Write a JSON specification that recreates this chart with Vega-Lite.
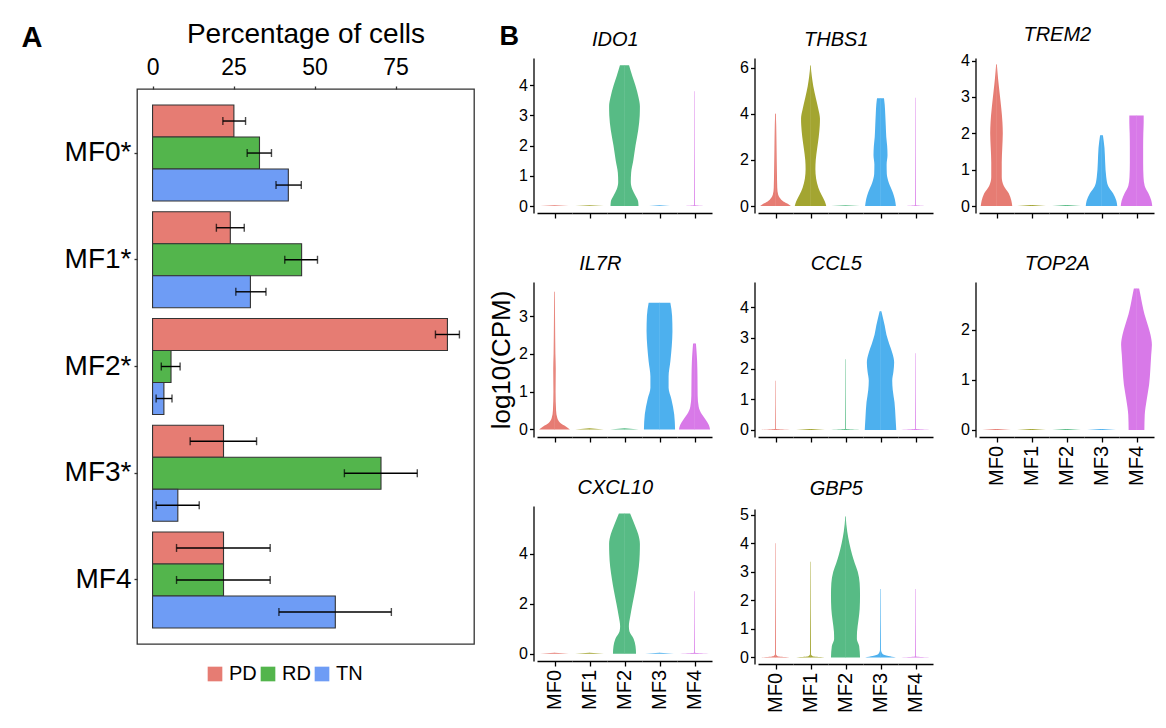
{
  "$schema": "https://vega.github.io/schema/vega-lite/v6.json",
  "padding": {"left": 20, "top": 19, "right": 5, "bottom": 5},
  "datasets": {
    "bars": [
      {"cl": "MF0*", "grp": "PD", "pct": 25.1, "lo": 21.7, "hi": 28.7},
      {"cl": "MF0*", "grp": "RD", "pct": 33.0, "lo": 29.2, "hi": 36.7},
      {"cl": "MF0*", "grp": "TN", "pct": 41.9, "lo": 38.1, "hi": 45.9},
      {"cl": "MF1*", "grp": "PD", "pct": 24.0, "lo": 19.7, "hi": 28.3},
      {"cl": "MF1*", "grp": "RD", "pct": 46.0, "lo": 40.8, "hi": 50.9},
      {"cl": "MF1*", "grp": "TN", "pct": 30.2, "lo": 25.7, "hi": 35.0},
      {"cl": "MF2*", "grp": "PD", "pct": 91.0, "lo": 87.3, "hi": 94.7},
      {"cl": "MF2*", "grp": "RD", "pct": 5.7, "lo": 2.7, "hi": 8.5},
      {"cl": "MF2*", "grp": "TN", "pct": 3.5, "lo": 1.1, "hi": 6.0},
      {"cl": "MF3*", "grp": "PD", "pct": 21.9, "lo": 11.6, "hi": 32.1},
      {"cl": "MF3*", "grp": "RD", "pct": 70.5, "lo": 59.2, "hi": 81.7},
      {"cl": "MF3*", "grp": "TN", "pct": 7.8, "lo": 1.1, "hi": 14.4},
      {"cl": "MF4", "grp": "PD", "pct": 21.9, "lo": 7.4, "hi": 36.3},
      {"cl": "MF4", "grp": "RD", "pct": 21.9, "lo": 7.4, "hi": 36.3},
      {"cl": "MF4", "grp": "TN", "pct": 56.4, "lo": 39.0, "hi": 73.7}
    ],
    "vio": [
      {"g": "IDO1", "c": "MF0", "v": 0, "d": 0.82}, {"g": "IDO1", "c": "MF0", "v": 0.03, "d": 0.02},
      {"g": "IDO1", "c": "MF1", "v": 0, "d": 0.82}, {"g": "IDO1", "c": "MF1", "v": 0.03, "d": 0.02},
      {"g": "IDO1", "c": "MF2", "v": 0, "d": 0.8}, {"g": "IDO1", "c": "MF2", "v": 0.15, "d": 0.78}, {"g": "IDO1", "c": "MF2", "v": 0.35, "d": 0.62}, {"g": "IDO1", "c": "MF2", "v": 0.55, "d": 0.45}, {"g": "IDO1", "c": "MF2", "v": 0.8, "d": 0.36}, {"g": "IDO1", "c": "MF2", "v": 1.1, "d": 0.38}, {"g": "IDO1", "c": "MF2", "v": 1.5, "d": 0.5}, {"g": "IDO1", "c": "MF2", "v": 2.0, "d": 0.63}, {"g": "IDO1", "c": "MF2", "v": 2.5, "d": 0.78}, {"g": "IDO1", "c": "MF2", "v": 3.0, "d": 0.87}, {"g": "IDO1", "c": "MF2", "v": 3.3, "d": 0.88}, {"g": "IDO1", "c": "MF2", "v": 3.6, "d": 0.8}, {"g": "IDO1", "c": "MF2", "v": 4.0, "d": 0.62}, {"g": "IDO1", "c": "MF2", "v": 4.3, "d": 0.45}, {"g": "IDO1", "c": "MF2", "v": 4.66, "d": 0.26},
      {"g": "IDO1", "c": "MF3", "v": 0, "d": 0.6}, {"g": "IDO1", "c": "MF3", "v": 0.03, "d": 0.02},
      {"g": "IDO1", "c": "MF4", "v": 0, "d": 0.82}, {"g": "IDO1", "c": "MF4", "v": 0.03, "d": 0.02}, {"g": "IDO1", "c": "MF4", "v": 3.8, "d": 0.002},

      {"g": "THBS1", "c": "MF0", "v": 0, "d": 0.88}, {"g": "THBS1", "c": "MF0", "v": 0.1, "d": 0.7}, {"g": "THBS1", "c": "MF0", "v": 0.2, "d": 0.45}, {"g": "THBS1", "c": "MF0", "v": 0.35, "d": 0.25}, {"g": "THBS1", "c": "MF0", "v": 0.5, "d": 0.15}, {"g": "THBS1", "c": "MF0", "v": 0.8, "d": 0.1}, {"g": "THBS1", "c": "MF0", "v": 1.5, "d": 0.08}, {"g": "THBS1", "c": "MF0", "v": 2.5, "d": 0.06}, {"g": "THBS1", "c": "MF0", "v": 3.5, "d": 0.04}, {"g": "THBS1", "c": "MF0", "v": 4.0, "d": 0.02},
      {"g": "THBS1", "c": "MF1", "v": 0, "d": 0.9}, {"g": "THBS1", "c": "MF1", "v": 0.2, "d": 0.82}, {"g": "THBS1", "c": "MF1", "v": 0.5, "d": 0.62}, {"g": "THBS1", "c": "MF1", "v": 0.8, "d": 0.45}, {"g": "THBS1", "c": "MF1", "v": 1.2, "d": 0.32}, {"g": "THBS1", "c": "MF1", "v": 1.6, "d": 0.28}, {"g": "THBS1", "c": "MF1", "v": 2.0, "d": 0.3}, {"g": "THBS1", "c": "MF1", "v": 2.5, "d": 0.38}, {"g": "THBS1", "c": "MF1", "v": 3.0, "d": 0.47}, {"g": "THBS1", "c": "MF1", "v": 3.5, "d": 0.53}, {"g": "THBS1", "c": "MF1", "v": 3.8, "d": 0.54}, {"g": "THBS1", "c": "MF1", "v": 4.2, "d": 0.45}, {"g": "THBS1", "c": "MF1", "v": 4.7, "d": 0.3}, {"g": "THBS1", "c": "MF1", "v": 5.2, "d": 0.16}, {"g": "THBS1", "c": "MF1", "v": 5.6, "d": 0.08}, {"g": "THBS1", "c": "MF1", "v": 6.1, "d": 0.01},
      {"g": "THBS1", "c": "MF2", "v": 0, "d": 0.82}, {"g": "THBS1", "c": "MF2", "v": 0.04, "d": 0.02},
      {"g": "THBS1", "c": "MF3", "v": 0, "d": 0.88}, {"g": "THBS1", "c": "MF3", "v": 0.3, "d": 0.82}, {"g": "THBS1", "c": "MF3", "v": 0.6, "d": 0.7}, {"g": "THBS1", "c": "MF3", "v": 1.0, "d": 0.48}, {"g": "THBS1", "c": "MF3", "v": 1.4, "d": 0.36}, {"g": "THBS1", "c": "MF3", "v": 1.8, "d": 0.35}, {"g": "THBS1", "c": "MF3", "v": 2.2, "d": 0.4}, {"g": "THBS1", "c": "MF3", "v": 2.6, "d": 0.38}, {"g": "THBS1", "c": "MF3", "v": 3.0, "d": 0.33}, {"g": "THBS1", "c": "MF3", "v": 3.5, "d": 0.3}, {"g": "THBS1", "c": "MF3", "v": 4.0, "d": 0.27}, {"g": "THBS1", "c": "MF3", "v": 4.4, "d": 0.24}, {"g": "THBS1", "c": "MF3", "v": 4.68, "d": 0.2},
      {"g": "THBS1", "c": "MF4", "v": 0, "d": 0.82}, {"g": "THBS1", "c": "MF4", "v": 0.04, "d": 0.02}, {"g": "THBS1", "c": "MF4", "v": 4.7, "d": 0.002},

      {"g": "TREM2", "c": "MF0", "v": 0, "d": 0.9}, {"g": "TREM2", "c": "MF0", "v": 0.15, "d": 0.85}, {"g": "TREM2", "c": "MF0", "v": 0.35, "d": 0.7}, {"g": "TREM2", "c": "MF0", "v": 0.55, "d": 0.42}, {"g": "TREM2", "c": "MF0", "v": 0.8, "d": 0.3}, {"g": "TREM2", "c": "MF0", "v": 1.2, "d": 0.3}, {"g": "TREM2", "c": "MF0", "v": 1.6, "d": 0.33}, {"g": "TREM2", "c": "MF0", "v": 2.0, "d": 0.36}, {"g": "TREM2", "c": "MF0", "v": 2.3, "d": 0.34}, {"g": "TREM2", "c": "MF0", "v": 2.7, "d": 0.27}, {"g": "TREM2", "c": "MF0", "v": 3.1, "d": 0.18}, {"g": "TREM2", "c": "MF0", "v": 3.5, "d": 0.09}, {"g": "TREM2", "c": "MF0", "v": 3.89, "d": 0.02},
      {"g": "TREM2", "c": "MF1", "v": 0, "d": 0.82}, {"g": "TREM2", "c": "MF1", "v": 0.03, "d": 0.02},
      {"g": "TREM2", "c": "MF2", "v": 0, "d": 0.82}, {"g": "TREM2", "c": "MF2", "v": 0.03, "d": 0.02},
      {"g": "TREM2", "c": "MF3", "v": 0, "d": 0.9}, {"g": "TREM2", "c": "MF3", "v": 0.15, "d": 0.85}, {"g": "TREM2", "c": "MF3", "v": 0.35, "d": 0.66}, {"g": "TREM2", "c": "MF3", "v": 0.55, "d": 0.38}, {"g": "TREM2", "c": "MF3", "v": 0.8, "d": 0.27}, {"g": "TREM2", "c": "MF3", "v": 1.2, "d": 0.21}, {"g": "TREM2", "c": "MF3", "v": 1.6, "d": 0.17}, {"g": "TREM2", "c": "MF3", "v": 1.95, "d": 0.08},
      {"g": "TREM2", "c": "MF4", "v": 0, "d": 0.9}, {"g": "TREM2", "c": "MF4", "v": 0.15, "d": 0.85}, {"g": "TREM2", "c": "MF4", "v": 0.35, "d": 0.68}, {"g": "TREM2", "c": "MF4", "v": 0.55, "d": 0.47}, {"g": "TREM2", "c": "MF4", "v": 0.8, "d": 0.4}, {"g": "TREM2", "c": "MF4", "v": 1.2, "d": 0.38}, {"g": "TREM2", "c": "MF4", "v": 1.6, "d": 0.38}, {"g": "TREM2", "c": "MF4", "v": 2.0, "d": 0.39}, {"g": "TREM2", "c": "MF4", "v": 2.3, "d": 0.41}, {"g": "TREM2", "c": "MF4", "v": 2.49, "d": 0.41},

      {"g": "IL7R", "c": "MF0", "v": 0, "d": 0.88}, {"g": "IL7R", "c": "MF0", "v": 0.08, "d": 0.65}, {"g": "IL7R", "c": "MF0", "v": 0.18, "d": 0.32}, {"g": "IL7R", "c": "MF0", "v": 0.3, "d": 0.16}, {"g": "IL7R", "c": "MF0", "v": 0.5, "d": 0.09}, {"g": "IL7R", "c": "MF0", "v": 1.0, "d": 0.06}, {"g": "IL7R", "c": "MF0", "v": 1.6, "d": 0.07}, {"g": "IL7R", "c": "MF0", "v": 2.0, "d": 0.05}, {"g": "IL7R", "c": "MF0", "v": 3.0, "d": 0.03}, {"g": "IL7R", "c": "MF0", "v": 3.64, "d": 0.01},
      {"g": "IL7R", "c": "MF1", "v": 0, "d": 0.82}, {"g": "IL7R", "c": "MF1", "v": 0.03, "d": 0.02},
      {"g": "IL7R", "c": "MF2", "v": 0, "d": 0.82}, {"g": "IL7R", "c": "MF2", "v": 0.03, "d": 0.02},
      {"g": "IL7R", "c": "MF3", "v": 0, "d": 0.89}, {"g": "IL7R", "c": "MF3", "v": 0.4, "d": 0.84}, {"g": "IL7R", "c": "MF3", "v": 0.8, "d": 0.68}, {"g": "IL7R", "c": "MF3", "v": 1.1, "d": 0.52}, {"g": "IL7R", "c": "MF3", "v": 1.4, "d": 0.52}, {"g": "IL7R", "c": "MF3", "v": 1.8, "d": 0.62}, {"g": "IL7R", "c": "MF3", "v": 2.2, "d": 0.7}, {"g": "IL7R", "c": "MF3", "v": 2.6, "d": 0.74}, {"g": "IL7R", "c": "MF3", "v": 3.0, "d": 0.72}, {"g": "IL7R", "c": "MF3", "v": 3.35, "d": 0.62},
      {"g": "IL7R", "c": "MF4", "v": 0, "d": 0.89}, {"g": "IL7R", "c": "MF4", "v": 0.12, "d": 0.82}, {"g": "IL7R", "c": "MF4", "v": 0.25, "d": 0.65}, {"g": "IL7R", "c": "MF4", "v": 0.4, "d": 0.42}, {"g": "IL7R", "c": "MF4", "v": 0.6, "d": 0.24}, {"g": "IL7R", "c": "MF4", "v": 0.9, "d": 0.18}, {"g": "IL7R", "c": "MF4", "v": 1.4, "d": 0.17}, {"g": "IL7R", "c": "MF4", "v": 1.8, "d": 0.15}, {"g": "IL7R", "c": "MF4", "v": 2.1, "d": 0.11}, {"g": "IL7R", "c": "MF4", "v": 2.27, "d": 0.08},

      {"g": "CCL5", "c": "MF0", "v": 0, "d": 0.82}, {"g": "CCL5", "c": "MF0", "v": 0.03, "d": 0.02}, {"g": "CCL5", "c": "MF0", "v": 1.6, "d": 0.002},
      {"g": "CCL5", "c": "MF1", "v": 0, "d": 0.82}, {"g": "CCL5", "c": "MF1", "v": 0.03, "d": 0.02},
      {"g": "CCL5", "c": "MF2", "v": 0, "d": 0.82}, {"g": "CCL5", "c": "MF2", "v": 0.03, "d": 0.02}, {"g": "CCL5", "c": "MF2", "v": 2.3, "d": 0.002},
      {"g": "CCL5", "c": "MF3", "v": 0, "d": 0.9}, {"g": "CCL5", "c": "MF3", "v": 0.4, "d": 0.86}, {"g": "CCL5", "c": "MF3", "v": 0.9, "d": 0.8}, {"g": "CCL5", "c": "MF3", "v": 1.3, "d": 0.7}, {"g": "CCL5", "c": "MF3", "v": 1.6, "d": 0.67}, {"g": "CCL5", "c": "MF3", "v": 1.9, "d": 0.74}, {"g": "CCL5", "c": "MF3", "v": 2.2, "d": 0.78}, {"g": "CCL5", "c": "MF3", "v": 2.5, "d": 0.68}, {"g": "CCL5", "c": "MF3", "v": 2.8, "d": 0.5}, {"g": "CCL5", "c": "MF3", "v": 3.1, "d": 0.34}, {"g": "CCL5", "c": "MF3", "v": 3.4, "d": 0.24}, {"g": "CCL5", "c": "MF3", "v": 3.87, "d": 0.05},
      {"g": "CCL5", "c": "MF4", "v": 0, "d": 0.82}, {"g": "CCL5", "c": "MF4", "v": 0.03, "d": 0.02}, {"g": "CCL5", "c": "MF4", "v": 2.5, "d": 0.002},

      {"g": "TOP2A", "c": "MF0", "v": 0, "d": 0.82}, {"g": "TOP2A", "c": "MF0", "v": 0.02, "d": 0.02},
      {"g": "TOP2A", "c": "MF1", "v": 0, "d": 0.82}, {"g": "TOP2A", "c": "MF1", "v": 0.02, "d": 0.02},
      {"g": "TOP2A", "c": "MF2", "v": 0, "d": 0.82}, {"g": "TOP2A", "c": "MF2", "v": 0.02, "d": 0.02},
      {"g": "TOP2A", "c": "MF3", "v": 0, "d": 0.82}, {"g": "TOP2A", "c": "MF3", "v": 0.02, "d": 0.02},
      {"g": "TOP2A", "c": "MF4", "v": 0, "d": 0.45}, {"g": "TOP2A", "c": "MF4", "v": 0.3, "d": 0.47}, {"g": "TOP2A", "c": "MF4", "v": 0.6, "d": 0.58}, {"g": "TOP2A", "c": "MF4", "v": 0.9, "d": 0.72}, {"g": "TOP2A", "c": "MF4", "v": 1.2, "d": 0.79}, {"g": "TOP2A", "c": "MF4", "v": 1.5, "d": 0.84}, {"g": "TOP2A", "c": "MF4", "v": 1.7, "d": 0.88}, {"g": "TOP2A", "c": "MF4", "v": 1.9, "d": 0.8}, {"g": "TOP2A", "c": "MF4", "v": 2.1, "d": 0.64}, {"g": "TOP2A", "c": "MF4", "v": 2.3, "d": 0.46}, {"g": "TOP2A", "c": "MF4", "v": 2.5, "d": 0.33}, {"g": "TOP2A", "c": "MF4", "v": 2.7, "d": 0.22}, {"g": "TOP2A", "c": "MF4", "v": 2.82, "d": 0.15},

      {"g": "CXCL10", "c": "MF0", "v": 0, "d": 0.82}, {"g": "CXCL10", "c": "MF0", "v": 0.04, "d": 0.02},
      {"g": "CXCL10", "c": "MF1", "v": 0, "d": 0.82}, {"g": "CXCL10", "c": "MF1", "v": 0.04, "d": 0.02},
      {"g": "CXCL10", "c": "MF2", "v": 0, "d": 0.66}, {"g": "CXCL10", "c": "MF2", "v": 0.3, "d": 0.63}, {"g": "CXCL10", "c": "MF2", "v": 0.6, "d": 0.52}, {"g": "CXCL10", "c": "MF2", "v": 0.9, "d": 0.28}, {"g": "CXCL10", "c": "MF2", "v": 1.1, "d": 0.25}, {"g": "CXCL10", "c": "MF2", "v": 1.5, "d": 0.33}, {"g": "CXCL10", "c": "MF2", "v": 2.0, "d": 0.46}, {"g": "CXCL10", "c": "MF2", "v": 2.5, "d": 0.6}, {"g": "CXCL10", "c": "MF2", "v": 3.0, "d": 0.72}, {"g": "CXCL10", "c": "MF2", "v": 3.5, "d": 0.82}, {"g": "CXCL10", "c": "MF2", "v": 4.0, "d": 0.87}, {"g": "CXCL10", "c": "MF2", "v": 4.4, "d": 0.88}, {"g": "CXCL10", "c": "MF2", "v": 4.8, "d": 0.78}, {"g": "CXCL10", "c": "MF2", "v": 5.1, "d": 0.62}, {"g": "CXCL10", "c": "MF2", "v": 5.4, "d": 0.45}, {"g": "CXCL10", "c": "MF2", "v": 5.62, "d": 0.32},
      {"g": "CXCL10", "c": "MF3", "v": 0, "d": 0.82}, {"g": "CXCL10", "c": "MF3", "v": 0.04, "d": 0.02},
      {"g": "CXCL10", "c": "MF4", "v": 0, "d": 0.82}, {"g": "CXCL10", "c": "MF4", "v": 0.04, "d": 0.02}, {"g": "CXCL10", "c": "MF4", "v": 2.5, "d": 0.002},

      {"g": "GBP5", "c": "MF0", "v": 0, "d": 0.82}, {"g": "GBP5", "c": "MF0", "v": 0.04, "d": 0.12}, {"g": "GBP5", "c": "MF0", "v": 0.1, "d": 0.03}, {"g": "GBP5", "c": "MF0", "v": 4.0, "d": 0.002},
      {"g": "GBP5", "c": "MF1", "v": 0, "d": 0.82}, {"g": "GBP5", "c": "MF1", "v": 0.04, "d": 0.12}, {"g": "GBP5", "c": "MF1", "v": 0.1, "d": 0.03}, {"g": "GBP5", "c": "MF1", "v": 3.35, "d": 0.002},
      {"g": "GBP5", "c": "MF2", "v": 0, "d": 0.83}, {"g": "GBP5", "c": "MF2", "v": 0.4, "d": 0.78}, {"g": "GBP5", "c": "MF2", "v": 0.65, "d": 0.65}, {"g": "GBP5", "c": "MF2", "v": 0.9, "d": 0.66}, {"g": "GBP5", "c": "MF2", "v": 1.3, "d": 0.74}, {"g": "GBP5", "c": "MF2", "v": 1.7, "d": 0.81}, {"g": "GBP5", "c": "MF2", "v": 2.2, "d": 0.83}, {"g": "GBP5", "c": "MF2", "v": 2.6, "d": 0.81}, {"g": "GBP5", "c": "MF2", "v": 3.0, "d": 0.7}, {"g": "GBP5", "c": "MF2", "v": 3.3, "d": 0.53}, {"g": "GBP5", "c": "MF2", "v": 3.6, "d": 0.38}, {"g": "GBP5", "c": "MF2", "v": 4.0, "d": 0.22}, {"g": "GBP5", "c": "MF2", "v": 4.4, "d": 0.1}, {"g": "GBP5", "c": "MF2", "v": 4.94, "d": 0.01},
      {"g": "GBP5", "c": "MF3", "v": 0, "d": 0.88}, {"g": "GBP5", "c": "MF3", "v": 0.05, "d": 0.45}, {"g": "GBP5", "c": "MF3", "v": 0.12, "d": 0.12}, {"g": "GBP5", "c": "MF3", "v": 0.25, "d": 0.03}, {"g": "GBP5", "c": "MF3", "v": 2.4, "d": 0.003},
      {"g": "GBP5", "c": "MF4", "v": 0, "d": 0.82}, {"g": "GBP5", "c": "MF4", "v": 0.03, "d": 0.02}, {"g": "GBP5", "c": "MF4", "v": 2.4, "d": 0.002}
    ]
  },
  "resolve": {"scale": {"color": "independent"}},
  "spacing": 13,
  "hconcat": [
    {
      "bounds": "flush",
      "spacing": 30,
      "vconcat": [
        {"width": 1, "height": 1, "data": {"values": []}, "mark": "point"},
        {
          "width": 337, "height": 555,
          "data": {"name": "bars"},
          "view": {"stroke": "#333333", "strokeWidth": 1.3},
          "encoding": {
            "y": {"field": "cl", "type": "nominal", "sort": null, "scale": {"paddingInner": 0.1, "paddingOuter": 0.15},
              "axis": {"title": "A", "titleAngle": 0, "titleFontSize": 29, "titleFontWeight": "bold", "titleAlign": "left", "titleBaseline": "alphabetic", "titleX": -116, "titleY": -43, "labelFontSize": 28, "labelPadding": 3, "tickSize": 3, "tickColor": "#333333", "domain": false}},
            "yOffset": {"field": "grp", "type": "nominal", "sort": ["PD", "RD", "TN"], "scale": {"paddingInner": 0, "paddingOuter": 0}}
          },
          "layer": [
            {"mark": {"type": "bar", "stroke": "#333333", "strokeWidth": 1.1},
             "encoding": {
               "x": {"field": "pct", "type": "quantitative", "scale": {"domain": [-4.8, 99.2], "nice": false, "zero": false},
                 "axis": {"orient": "top", "values": [0, 25, 50, 75], "title": "Percentage of cells", "titleFontSize": 28, "titlePadding": 8, "labelFontSize": 23, "labelPadding": 7, "tickSize": 3, "tickColor": "#333333", "domain": false}},
               "x2": {"datum": 0},
               "color": {"field": "grp", "type": "nominal", "scale": {"domain": ["PD", "RD", "TN"], "range": ["#E67C73", "#53B54C", "#6E9CF5"]},
                 "legend": {"title": null, "orient": "none", "legendX": 68, "legendY": 606, "direction": "horizontal", "symbolType": "square", "symbolSize": 215, "symbolStrokeWidth": 0, "symbolOpacity": 1, "labelFontSize": 20, "columnPadding": 1, "labelOffset": 4}}
             }},
            {"mark": {"type": "rule", "color": "black", "strokeWidth": 1.4},
             "encoding": {"x": {"field": "lo", "type": "quantitative"}, "x2": {"field": "hi"}}},
            {"mark": {"type": "tick", "color": "black", "thickness": 1.4, "size": 8, "orient": "vertical"},
             "encoding": {"x": {"field": "lo", "type": "quantitative"}}},
            {"mark": {"type": "tick", "color": "black", "thickness": 1.4, "size": 8, "orient": "vertical"},
             "encoding": {"x": {"field": "hi", "type": "quantitative"}}}
          ]
        }
      ]
    },
    {
      "title": {"text": "B", "anchor": "start", "frame": "bounds", "fontSize": 27, "fontWeight": "bold", "fontStyle": "normal", "offset": -26, "dx": 11},
      "spacing": 27,
      "hconcat": [
        {
          "spacing": 35,
          "vconcat": [
            {
              "title": {"text": "IDO1", "anchor": "middle"},
              "data": {"name": "vio"},
              "transform": [{"filter": "datum.g === 'IDO1'"}],
              "facet": {"column": {"field": "c", "type": "nominal", "title": null, "header": {"labels": false}}},
              "spacing": 0,
              "resolve": {"scale": {"x": "independent"}},
              "spec": {
                "width": 35, "height": 155,
                "layer": [
                  {"mark": {"type": "area", "orient": "horizontal", "interpolate": "monotone"},
                   "encoding": {
                     "y": {"field": "v", "type": "quantitative", "scale": {"domain": [-0.23, 4.9], "nice": false, "zero": false}, "axis": {"values": [0, 1, 2, 3, 4], "offset": 3.5, "labelFontSize": 16, "tickSize": 4, "labelPadding": 2, "title": null}},
                     "x": {"field": "d", "type": "quantitative", "stack": null, "scale": {"domain": [-1, 1]}, "axis": {"values": [0], "labels": false, "title": null, "tickSize": 5}},
                     "x2": {"datum": -0.012},
                     "color": {"field": "c", "type": "nominal", "scale": {"domain": ["MF0", "MF1", "MF2", "MF3", "MF4"], "range": ["#E67C73", "#A3A531", "#57BB85", "#4DB0EE", "#D879E8"]}, "legend": null}
                   }},
                  {"mark": {"type": "area", "orient": "horizontal", "interpolate": "monotone"},
                   "encoding": {
                     "y": {"field": "v", "type": "quantitative", "scale": {"domain": [-0.23, 4.9], "nice": false, "zero": false}, "axis": {"values": [0, 1, 2, 3, 4], "offset": 3.5, "labelFontSize": 16, "tickSize": 4, "labelPadding": 2, "title": null}},
                     "x": {"field": "d", "type": "quantitative", "stack": null, "scale": {"domain": [-1, 1], "reverse": true}, "axis": null},
                     "x2": {"datum": -0.012},
                     "color": {"field": "c", "type": "nominal", "legend": null}
                   }}
                ],
                "resolve": {"scale": {"x": "independent"}}
              }
            },
            {
              "title": {"text": "IL7R", "anchor": "middle"},
              "data": {"name": "vio"},
              "transform": [{"filter": "datum.g === 'IL7R'"}],
              "facet": {"column": {"field": "c", "type": "nominal", "title": null, "header": {"labels": false}}},
              "spacing": 0,
              "resolve": {"scale": {"x": "independent"}},
              "spec": {
                "width": 35, "height": 155,
                "layer": [
                  {"mark": {"type": "area", "orient": "horizontal", "interpolate": "monotone"},
                   "encoding": {
                     "y": {"field": "v", "type": "quantitative", "scale": {"domain": [-0.2, 3.9], "nice": false, "zero": false}, "axis": {"values": [0, 1, 2, 3], "offset": 3.5, "labelFontSize": 16, "tickSize": 4, "labelPadding": 2, "title": "log10(CPM)", "titleFontSize": 26, "titlePadding": 4}},
                     "x": {"field": "d", "type": "quantitative", "stack": null, "scale": {"domain": [-1, 1]}, "axis": {"values": [0], "labels": false, "title": null, "tickSize": 5}},
                     "x2": {"datum": -0.012},
                     "color": {"field": "c", "type": "nominal", "legend": null}
                   }},
                  {"mark": {"type": "area", "orient": "horizontal", "interpolate": "monotone"},
                   "encoding": {
                     "y": {"field": "v", "type": "quantitative", "scale": {"domain": [-0.2, 3.9], "nice": false, "zero": false}, "axis": {"values": [0, 1, 2, 3], "offset": 3.5, "labelFontSize": 16, "tickSize": 4, "labelPadding": 2, "title": "log10(CPM)", "titleFontSize": 26, "titlePadding": 4}},
                     "x": {"field": "d", "type": "quantitative", "stack": null, "scale": {"domain": [-1, 1], "reverse": true}, "axis": null},
                     "x2": {"datum": -0.012},
                     "color": {"field": "c", "type": "nominal", "legend": null}
                   }}
                ],
                "resolve": {"scale": {"x": "independent"}}
              }
            },
            {
              "title": {"text": "CXCL10", "anchor": "middle"},
              "data": {"name": "vio"},
              "transform": [{"filter": "datum.g === 'CXCL10'"}],
              "facet": {"column": {"field": "c", "type": "nominal", "title": null, "header": {"labelOrient": "bottom", "labelAngle": -90, "labelAlign": "right", "labelBaseline": "middle", "labelFontSize": 20, "labelPadding": 3}}},
              "spacing": 0,
              "resolve": {"scale": {"x": "independent"}},
              "spec": {
                "width": 35, "height": 155,
                "layer": [
                  {"mark": {"type": "area", "orient": "horizontal", "interpolate": "monotone"},
                   "encoding": {
                     "y": {"field": "v", "type": "quantitative", "scale": {"domain": [-0.29, 5.92], "nice": false, "zero": false}, "axis": {"values": [0, 2, 4], "offset": 3.5, "labelFontSize": 16, "tickSize": 4, "labelPadding": 2, "title": null}},
                     "x": {"field": "d", "type": "quantitative", "stack": null, "scale": {"domain": [-1, 1]}, "axis": {"values": [0], "labels": false, "title": null, "tickSize": 5}},
                     "x2": {"datum": -0.012},
                     "color": {"field": "c", "type": "nominal", "legend": null}
                   }},
                  {"mark": {"type": "area", "orient": "horizontal", "interpolate": "monotone"},
                   "encoding": {
                     "y": {"field": "v", "type": "quantitative", "scale": {"domain": [-0.29, 5.92], "nice": false, "zero": false}, "axis": {"values": [0, 2, 4], "offset": 3.5, "labelFontSize": 16, "tickSize": 4, "labelPadding": 2, "title": null}},
                     "x": {"field": "d", "type": "quantitative", "stack": null, "scale": {"domain": [-1, 1], "reverse": true}, "axis": null},
                     "x2": {"datum": -0.012},
                     "color": {"field": "c", "type": "nominal", "legend": null}
                   }}
                ],
                "resolve": {"scale": {"x": "independent"}}
              }
            }
          ]
        },
        {
          "spacing": 35,
          "vconcat": [
            {
              "title": {"text": "THBS1", "anchor": "middle"},
              "data": {"name": "vio"},
              "transform": [{"filter": "datum.g === 'THBS1'"}],
              "facet": {"column": {"field": "c", "type": "nominal", "title": null, "header": {"labels": false}}},
              "spacing": 0,
              "resolve": {"scale": {"x": "independent"}},
              "spec": {
                "width": 35, "height": 155,
                "layer": [
                  {"mark": {"type": "area", "orient": "horizontal", "interpolate": "monotone"},
                   "encoding": {
                     "y": {"field": "v", "type": "quantitative", "scale": {"domain": [-0.3, 6.42], "nice": false, "zero": false}, "axis": {"values": [0, 2, 4, 6], "offset": 3.5, "labelFontSize": 16, "tickSize": 4, "labelPadding": 2, "title": null}},
                     "x": {"field": "d", "type": "quantitative", "stack": null, "scale": {"domain": [-1, 1]}, "axis": {"values": [0], "labels": false, "title": null, "tickSize": 5}},
                     "x2": {"datum": -0.012},
                     "color": {"field": "c", "type": "nominal", "legend": null}
                   }},
                  {"mark": {"type": "area", "orient": "horizontal", "interpolate": "monotone"},
                   "encoding": {
                     "y": {"field": "v", "type": "quantitative", "scale": {"domain": [-0.3, 6.42], "nice": false, "zero": false}, "axis": {"values": [0, 2, 4, 6], "offset": 3.5, "labelFontSize": 16, "tickSize": 4, "labelPadding": 2, "title": null}},
                     "x": {"field": "d", "type": "quantitative", "stack": null, "scale": {"domain": [-1, 1], "reverse": true}, "axis": null},
                     "x2": {"datum": -0.012},
                     "color": {"field": "c", "type": "nominal", "legend": null}
                   }}
                ],
                "resolve": {"scale": {"x": "independent"}}
              }
            },
            {
              "title": {"text": "CCL5", "anchor": "middle"},
              "data": {"name": "vio"},
              "transform": [{"filter": "datum.g === 'CCL5'"}],
              "facet": {"column": {"field": "c", "type": "nominal", "title": null, "header": {"labels": false}}},
              "spacing": 0,
              "resolve": {"scale": {"x": "independent"}},
              "spec": {
                "width": 35, "height": 155,
                "layer": [
                  {"mark": {"type": "area", "orient": "horizontal", "interpolate": "monotone"},
                   "encoding": {
                     "y": {"field": "v", "type": "quantitative", "scale": {"domain": [-0.23, 4.82], "nice": false, "zero": false}, "axis": {"values": [0, 1, 2, 3, 4], "offset": 3.5, "labelFontSize": 16, "tickSize": 4, "labelPadding": 2, "title": null}},
                     "x": {"field": "d", "type": "quantitative", "stack": null, "scale": {"domain": [-1, 1]}, "axis": {"values": [0], "labels": false, "title": null, "tickSize": 5}},
                     "x2": {"datum": -0.012},
                     "color": {"field": "c", "type": "nominal", "legend": null}
                   }},
                  {"mark": {"type": "area", "orient": "horizontal", "interpolate": "monotone"},
                   "encoding": {
                     "y": {"field": "v", "type": "quantitative", "scale": {"domain": [-0.23, 4.82], "nice": false, "zero": false}, "axis": {"values": [0, 1, 2, 3, 4], "offset": 3.5, "labelFontSize": 16, "tickSize": 4, "labelPadding": 2, "title": null}},
                     "x": {"field": "d", "type": "quantitative", "stack": null, "scale": {"domain": [-1, 1], "reverse": true}, "axis": null},
                     "x2": {"datum": -0.012},
                     "color": {"field": "c", "type": "nominal", "legend": null}
                   }}
                ],
                "resolve": {"scale": {"x": "independent"}}
              }
            },
            {
              "title": {"text": "GBP5", "anchor": "middle"},
              "data": {"name": "vio"},
              "transform": [{"filter": "datum.g === 'GBP5'"}],
              "facet": {"column": {"field": "c", "type": "nominal", "title": null, "header": {"labelOrient": "bottom", "labelAngle": -90, "labelAlign": "right", "labelBaseline": "middle", "labelFontSize": 20, "labelPadding": 3}}},
              "spacing": 0,
              "resolve": {"scale": {"x": "independent"}},
              "spec": {
                "width": 35, "height": 155,
                "layer": [
                  {"mark": {"type": "area", "orient": "horizontal", "interpolate": "monotone"},
                   "encoding": {
                     "y": {"field": "v", "type": "quantitative", "scale": {"domain": [-0.23, 5.2], "nice": false, "zero": false}, "axis": {"values": [0, 1, 2, 3, 4, 5], "offset": 3.5, "labelFontSize": 16, "tickSize": 4, "labelPadding": 2, "title": null}},
                     "x": {"field": "d", "type": "quantitative", "stack": null, "scale": {"domain": [-1, 1]}, "axis": {"values": [0], "labels": false, "title": null, "tickSize": 5}},
                     "x2": {"datum": -0.012},
                     "color": {"field": "c", "type": "nominal", "legend": null}
                   }},
                  {"mark": {"type": "area", "orient": "horizontal", "interpolate": "monotone"},
                   "encoding": {
                     "y": {"field": "v", "type": "quantitative", "scale": {"domain": [-0.23, 5.2], "nice": false, "zero": false}, "axis": {"values": [0, 1, 2, 3, 4, 5], "offset": 3.5, "labelFontSize": 16, "tickSize": 4, "labelPadding": 2, "title": null}},
                     "x": {"field": "d", "type": "quantitative", "stack": null, "scale": {"domain": [-1, 1], "reverse": true}, "axis": null},
                     "x2": {"datum": -0.012},
                     "color": {"field": "c", "type": "nominal", "legend": null}
                   }}
                ],
                "resolve": {"scale": {"x": "independent"}}
              }
            }
          ]
        },
        {
          "spacing": 35,
          "vconcat": [
            {
              "title": {"text": "TREM2", "anchor": "middle"},
              "data": {"name": "vio"},
              "transform": [{"filter": "datum.g === 'TREM2'"}],
              "facet": {"column": {"field": "c", "type": "nominal", "title": null, "header": {"labels": false}}},
              "spacing": 0,
              "resolve": {"scale": {"x": "independent"}},
              "spec": {
                "width": 35, "height": 155,
                "layer": [
                  {"mark": {"type": "area", "orient": "horizontal", "interpolate": "monotone"},
                   "encoding": {
                     "y": {"field": "v", "type": "quantitative", "scale": {"domain": [-0.19, 4.07], "nice": false, "zero": false}, "axis": {"values": [0, 1, 2, 3, 4], "offset": 3.5, "labelFontSize": 16, "tickSize": 4, "labelPadding": 2, "title": null}},
                     "x": {"field": "d", "type": "quantitative", "stack": null, "scale": {"domain": [-1, 1]}, "axis": {"values": [0], "labels": false, "title": null, "tickSize": 5}},
                     "x2": {"datum": -0.012},
                     "color": {"field": "c", "type": "nominal", "legend": null}
                   }},
                  {"mark": {"type": "area", "orient": "horizontal", "interpolate": "monotone"},
                   "encoding": {
                     "y": {"field": "v", "type": "quantitative", "scale": {"domain": [-0.19, 4.07], "nice": false, "zero": false}, "axis": {"values": [0, 1, 2, 3, 4], "offset": 3.5, "labelFontSize": 16, "tickSize": 4, "labelPadding": 2, "title": null}},
                     "x": {"field": "d", "type": "quantitative", "stack": null, "scale": {"domain": [-1, 1], "reverse": true}, "axis": null},
                     "x2": {"datum": -0.012},
                     "color": {"field": "c", "type": "nominal", "legend": null}
                   }}
                ],
                "resolve": {"scale": {"x": "independent"}}
              }
            },
            {
              "title": {"text": "TOP2A", "anchor": "middle"},
              "data": {"name": "vio"},
              "transform": [{"filter": "datum.g === 'TOP2A'"}],
              "facet": {"column": {"field": "c", "type": "nominal", "title": null, "header": {"labelOrient": "bottom", "labelAngle": -90, "labelAlign": "right", "labelBaseline": "middle", "labelFontSize": 20, "labelPadding": 3}}},
              "spacing": 0,
              "resolve": {"scale": {"x": "independent"}},
              "spec": {
                "width": 35, "height": 155,
                "layer": [
                  {"mark": {"type": "area", "orient": "horizontal", "interpolate": "monotone"},
                   "encoding": {
                     "y": {"field": "v", "type": "quantitative", "scale": {"domain": [-0.14, 2.95], "nice": false, "zero": false}, "axis": {"values": [0, 1, 2], "offset": 3.5, "labelFontSize": 16, "tickSize": 4, "labelPadding": 2, "title": null}},
                     "x": {"field": "d", "type": "quantitative", "stack": null, "scale": {"domain": [-1, 1]}, "axis": {"values": [0], "labels": false, "title": null, "tickSize": 5}},
                     "x2": {"datum": -0.012},
                     "color": {"field": "c", "type": "nominal", "legend": null}
                   }},
                  {"mark": {"type": "area", "orient": "horizontal", "interpolate": "monotone"},
                   "encoding": {
                     "y": {"field": "v", "type": "quantitative", "scale": {"domain": [-0.14, 2.95], "nice": false, "zero": false}, "axis": {"values": [0, 1, 2], "offset": 3.5, "labelFontSize": 16, "tickSize": 4, "labelPadding": 2, "title": null}},
                     "x": {"field": "d", "type": "quantitative", "stack": null, "scale": {"domain": [-1, 1], "reverse": true}, "axis": null},
                     "x2": {"datum": -0.012},
                     "color": {"field": "c", "type": "nominal", "legend": null}
                   }}
                ],
                "resolve": {"scale": {"x": "independent"}}
              }
            }
          ]
        }
      ]
    }
  ],
  "config": {
    "font": "Liberation Sans",
    "view": {"stroke": null},
    "axis": {"grid": false, "domainColor": "black", "tickColor": "black", "labelColor": "black", "titleColor": "black", "titleFontWeight": "normal", "domainWidth": 1.3, "tickWidth": 1.3},
    "title": {"fontSize": 20, "fontStyle": "italic", "fontWeight": "normal", "color": "black", "offset": 8},
    "header": {"labelColor": "black"},
    "legend": {"labelColor": "black"}
  }
}
